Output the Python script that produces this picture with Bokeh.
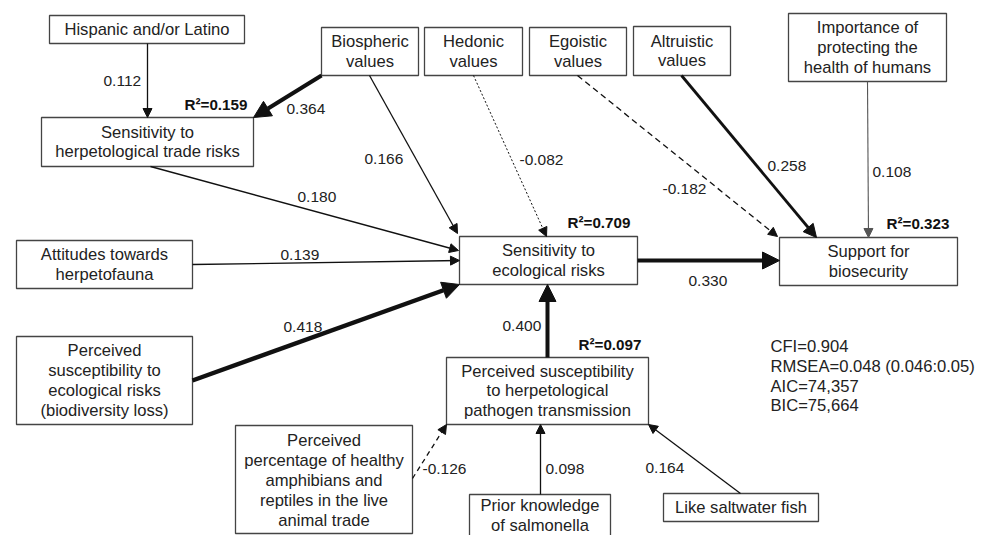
from bokeh.plotting import figure
from bokeh.models import Range1d, ColumnDataSource, Arrow, NormalHead
from bokeh.core.properties import value
from bokeh.embed import file_html
from bokeh.resources import INLINE

# ---------------- data ----------------
node_ids = ["hisp", "trade", "bio", "hed", "ego", "alt", "imp", "att", "pereco",
            "eco", "sup", "path", "pct", "prior", "fish"]
node_labels = [
    "Hispanic and/or Latino",
    "Sensitivity to\nherpetological trade risks",
    "Biospheric\nvalues",
    "Hedonic\nvalues",
    "Egoistic\nvalues",
    "Altruistic\nvalues",
    "Importance of\nprotecting the\nhealth of humans",
    "Attitudes towards\nherpetofauna",
    "Perceived\nsusceptibility to\necological risks\n(biodiversity loss)",
    "Sensitivity to\necological risks",
    "Support for\nbiosecurity",
    "Perceived susceptibility\nto herpetological\npathogen transmission",
    "Perceived\npercentage of healthy\namphibians and\nreptiles in the live\nanimal trade",
    "Prior knowledge\nof salmonella",
    "Like saltwater fish",
]
edge_from = ["hisp", "bio", "bio", "hed", "trade", "att", "pereco", "ego", "alt",
             "imp", "eco", "path", "pct", "prior", "fish"]
edge_to = ["trade", "trade", "eco", "eco", "eco", "eco", "eco", "sup", "sup",
           "sup", "sup", "eco", "path", "path", "path"]
coefficients = [0.112, 0.364, 0.166, -0.082, 0.180, 0.139, 0.418, -0.182, 0.258,
                0.108, 0.330, 0.400, -0.126, 0.098, 0.164]
r2_nodes = ["trade", "eco", "sup", "path"]
r2_values = [0.159, 0.709, 0.323, 0.097]
fit_stats = ["CFI=0.904", "RMSEA=0.048 (0.046:0.05)", "AIC=74,357", "BIC=75,664"]

# ---------------- layout (pixel positions of the diagram) ----------------
box = {  # left, top, right, bottom
    "hisp": (49, 15, 244, 43),
    "trade": (41, 117, 253, 166),
    "bio": (321, 27, 418, 75),
    "hed": (424, 27, 522, 75),
    "ego": (529, 27, 626, 75),
    "alt": (633, 26, 730, 75),
    "imp": (788, 13, 946, 81),
    "att": (16, 240, 192, 288),
    "pereco": (16, 336, 192, 424),
    "eco": (459, 236, 637, 284),
    "sup": (779, 237, 957, 285),
    "path": (446, 357, 648, 424),
    "pct": (235, 425, 412, 533),
    "prior": (469, 494, 610, 540),
    "fish": (663, 493, 818, 521),
}
text_shift = {"prior": -2, "pct": 1, "trade": 0}
edge_geom = [  # x0, y0, x1, y1
    (147, 43, 147, 117), (321, 75, 253, 117), (369, 75, 457, 233),
    (473, 75, 546, 236), (150, 166, 458, 250), (192, 264, 459, 260),
    (192, 380, 459, 284), (577, 75, 777, 236), (681, 75, 816, 237),
    (867, 81, 868, 237), (637, 260, 779, 260), (547, 357, 547, 284),
    (412, 478, 446, 424), (540, 494, 540, 424), (740, 493, 648, 424),
]
edge_width = [1.3, 4, 1.3, 1, 1.3, 1.3, 4.5, 1.3, 2.8, 1.1, 3.8, 4, 1.3, 1.3, 1.3]
edge_dash = ["solid", "solid", "solid", "2 2", "solid", "solid", "solid", "6 4",
             "solid", "solid", "solid", "solid", "5 4", "solid", "solid"]
edge_color = ["#111111"] * 9 + ["#555555"] + ["#111111"] * 5
coef_pos = [(103, 80), (286, 108), (364, 158), (519, 159), (297, 196), (280, 254),
            (283, 326), (662, 188), (767, 165), (872, 171), (688, 280), (502, 325),
            (422, 468), (545, 468), (645, 467)]
r2_pos = [(184, 104), (567, 222), (886, 223), (578, 344)]
fit_pos = [(770, 346), (770, 366), (770, 386), (770, 405)]

FONT = value("Liberation Sans")

p = figure(width=988, height=535, output_backend="svg", toolbar_location=None,
           x_range=Range1d(0, 988), y_range=Range1d(535, 0),
           x_axis_location=None, y_axis_location=None, min_border=0)
p.grid.visible = False
p.outline_line_color = None
p.background_fill_color = "white"

# edges
for i in range(len(edge_from)):
    x0, y0, x1, y1 = edge_geom[i]
    w = edge_width[i]
    hs = 9 if w < 2 else (13 if w < 3 else 17)
    head = NormalHead(size=hs, fill_color=edge_color[i], line_color=edge_color[i],
                      line_width=1)
    p.add_layout(Arrow(end=head, x_start=x0, y_start=y0, x_end=x1, y_end=y1,
                       line_width=w, line_color=edge_color[i],
                       line_dash=edge_dash[i]))

# boxes
bsrc = ColumnDataSource(dict(
    left=[box[n][0] for n in node_ids], top=[box[n][1] for n in node_ids],
    right=[box[n][2] for n in node_ids], bottom=[box[n][3] for n in node_ids],
    x=[(box[n][0] + box[n][2]) / 2 for n in node_ids],
    y=[(box[n][1] + box[n][3]) / 2 + text_shift.get(n, 0) for n in node_ids],
    text=node_labels))
p.quad(left="left", right="right", top="top", bottom="bottom", source=bsrc,
       fill_color="white", line_color="#444444", line_width=1.3)
p.text(x="x", y="y", text="text", source=bsrc, text_align="center",
       text_baseline="middle", text_font=FONT, text_font_size="16.6px",
       text_color="#222222", text_line_height=1.05)

# coefficient labels
csrc = ColumnDataSource(dict(x=[c[0] for c in coef_pos], y=[c[1] for c in coef_pos],
                             text=[f"{v:.3f}" for v in coefficients]))
p.text(x="x", y="y", text="text", source=csrc, text_align="left",
       text_baseline="middle", text_font=FONT, text_font_size="15.5px",
       text_color="#222222")

# R2 labels
rsrc = ColumnDataSource(dict(x=[c[0] for c in r2_pos], y=[c[1] for c in r2_pos],
                             text=[f"R\u00b2={v:.3f}" for v in r2_values]))
p.text(x="x", y="y", text="text", source=rsrc, text_align="left",
       text_baseline="middle", text_font=FONT, text_font_size="15.2px",
       text_font_style="bold", text_color="#111111")

# fit statistics
fsrc = ColumnDataSource(dict(x=[c[0] for c in fit_pos], y=[c[1] for c in fit_pos],
                             text=fit_stats))
p.text(x="x", y="y", text="text", source=fsrc, text_align="left",
       text_baseline="middle", text_font=FONT, text_font_size="16.6px",
       text_color="#222222")

open("out.html", "w").write(file_html(p, INLINE))
